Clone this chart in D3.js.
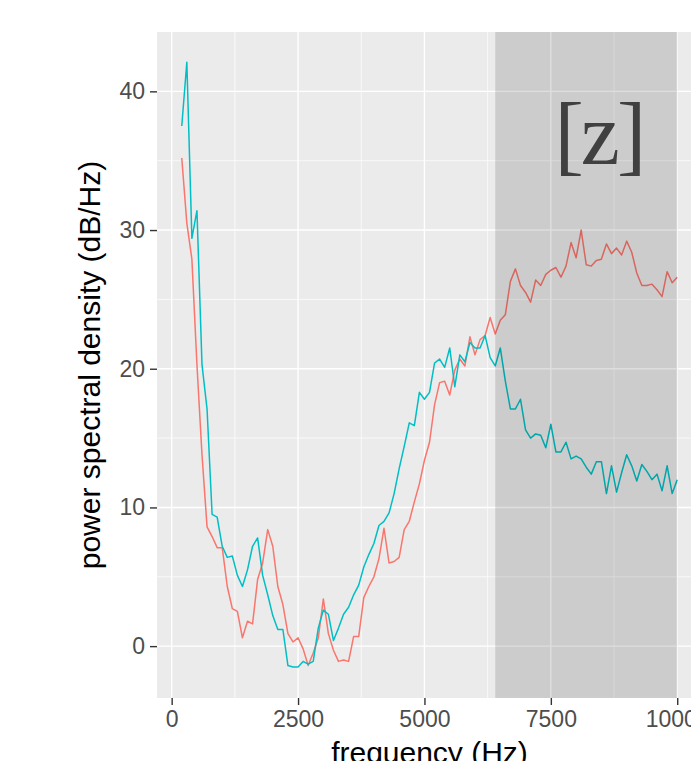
<!DOCTYPE html>
<html>
<head>
<meta charset="utf-8">
<script src="https://cdn.jsdelivr.net/npm/d3@7"></script>
<style>
  html, body { margin: 0; padding: 0; background: #ffffff; overflow: hidden; }
  svg { display: block; }
</style>
</head>
<body>
<svg id="chart" width="691" height="761"></svg>
<script>
// Frequency bins (Hz)
const frequencies = [
  200, 300, 400, 500, 600, 700, 800, 900, 1000, 1100,
  1200, 1300, 1400, 1500, 1600, 1700, 1800, 1900, 2000, 2100,
  2200, 2300, 2400, 2500, 2600, 2700, 2800, 2900, 3000, 3100,
  3200, 3300, 3400, 3500, 3600, 3700, 3800, 3900, 4000, 4100,
  4200, 4300, 4400, 4500, 4600, 4700, 4800, 4900, 5000, 5100,
  5200, 5300, 5400, 5500, 5600, 5700, 5800, 5900, 6000, 6100,
  6200, 6300, 6400, 6500, 6600, 6700, 6800, 6900, 7000, 7100,
  7200, 7300, 7400, 7500, 7600, 7700, 7800, 7900, 8000, 8100,
  8200, 8300, 8400, 8500, 8600, 8700, 8800, 8900, 9000, 9100,
  9200, 9300, 9400, 9500, 9600, 9700, 9800, 9900, 10000
];

// Power spectral density (dB/Hz), first spectrum (red)
const seriesA = [
  35.2, 30.5, 27.9, 20.3, 13.8, 8.6, 7.9, 7.1, 7.1, 4.3,
  2.7, 2.5, 0.6, 1.8, 1.6, 4.8, 6.0, 8.4, 7.2, 4.3,
  3.0, 0.9, 0.3, 0.6, -0.2, -1.4, -0.5, 0.6, 3.4, 0.9,
  -0.3, -1.1, -1.0, -1.1, 0.7, 0.7, 3.5, 4.3, 5.0, 6.3,
  8.5, 6.0, 6.1, 6.4, 8.4, 9.0, 10.4, 11.7, 13.4, 14.7,
  17.4, 19.0, 19.1, 18.1, 19.9, 20.7, 20.2, 22.3, 21.0, 22.1,
  22.4, 23.7, 22.5, 23.5, 23.9, 26.3, 27.2, 26.0, 25.5, 24.8,
  26.4, 26.0, 26.8, 27.1, 27.3, 26.6, 27.4, 29.1, 28.0, 30.0,
  27.5, 27.4, 27.8, 27.9, 29.0, 28.3, 28.7, 28.2, 29.2, 28.4,
  26.9, 26.0, 26.0, 26.1, 25.7, 25.2, 27.0, 26.2, 26.6
];

// Power spectral density (dB/Hz), second spectrum (cyan)
const seriesB = [
  37.5, 42.1, 29.4, 31.4, 20.3, 17.1, 9.5, 9.3, 7.2, 6.4,
  6.5, 5.1, 4.3, 5.5, 7.2, 7.8, 5.1, 3.7, 2.2, 1.2,
  1.2, -1.4, -1.5, -1.5, -1.1, -1.3, -1.1, 1.3, 2.6, 2.3,
  0.4, 1.3, 2.3, 2.8, 3.7, 4.4, 5.7, 6.6, 7.4, 8.7,
  9.0, 9.6, 11.0, 12.8, 14.4, 16.1, 15.9, 18.3, 17.8, 18.3,
  20.4, 20.7, 20.1, 21.5, 18.7, 21.0, 20.5, 21.9, 21.5, 21.5,
  22.4, 20.8, 20.2, 21.5, 19.1, 17.1, 17.1, 17.8, 15.6, 15.0,
  15.3, 15.2, 14.3, 16.0, 14.0, 14.0, 14.7, 13.5, 13.7, 13.5,
  12.9, 12.4, 13.3, 13.3, 11.0, 13.0, 11.1, 12.5, 13.8, 13.0,
  11.9, 13.1, 12.6, 12.0, 12.4, 11.2, 13.0, 11.0, 12.0
];

const xTicks = [0, 2500, 5000, 7500, 10000];
const xMinorTicks = [1250, 3750, 6250, 8750];
const yTicks = [0, 10, 20, 30, 40];
const yMinorTicks = [5, 15, 25, 35];

// Highlighted frequency band and its label
const bandRange = [6400, 10000];
const bandLabel = "[z]";
const bandLabelPos = [8450, 36.9];

const colors = { a: "#F8766D", b: "#00BFC4" };

// Panel geometry
const panel = { left: 157, top: 32, right: 702, bottom: 698 };

const svg = d3.select("#chart");

const x = d3.scaleLinear().domain([-290, 10490]).range([panel.left, panel.right]);
const y = d3.scaleLinear().domain([-3.74, 44.28]).range([panel.bottom, panel.top]);

// Panel background
svg.append("rect")
  .attr("x", panel.left).attr("y", panel.top)
  .attr("width", panel.right - panel.left).attr("height", panel.bottom - panel.top)
  .attr("fill", "#EBEBEB");

// Grid lines
const grid = svg.append("g");
grid.selectAll(".xminor").data(xMinorTicks).join("line")
  .attr("x1", d => x(d)).attr("x2", d => x(d))
  .attr("y1", panel.top).attr("y2", panel.bottom)
  .attr("stroke", "#ffffff").attr("stroke-width", 0.7);
grid.selectAll(".yminor").data(yMinorTicks).join("line")
  .attr("y1", d => y(d)).attr("y2", d => y(d))
  .attr("x1", panel.left).attr("x2", panel.right)
  .attr("stroke", "#ffffff").attr("stroke-width", 0.7);
grid.selectAll(".xmajor").data(xTicks).join("line")
  .attr("x1", d => x(d)).attr("x2", d => x(d))
  .attr("y1", panel.top).attr("y2", panel.bottom)
  .attr("stroke", "#ffffff").attr("stroke-width", 1.4);
grid.selectAll(".ymajor").data(yTicks).join("line")
  .attr("y1", d => y(d)).attr("y2", d => y(d))
  .attr("x1", panel.left).attr("x2", panel.right)
  .attr("stroke", "#ffffff").attr("stroke-width", 1.4);

// Spectra
const line = d3.line()
  .x(d => x(d[0]))
  .y(d => y(d[1]));

const rows = frequencies.map((f, i) => ({ f, a: seriesA[i], b: seriesB[i] }));

svg.append("path")
  .attr("d", line(rows.map(r => [r.f, r.a])))
  .attr("fill", "none").attr("stroke", colors.a)
  .attr("stroke-width", 1.5).attr("stroke-linejoin", "round");

svg.append("path")
  .attr("d", line(rows.map(r => [r.f, r.b])))
  .attr("fill", "none").attr("stroke", colors.b)
  .attr("stroke-width", 1.5).attr("stroke-linejoin", "round");

// Shaded band
svg.append("rect")
  .attr("x", x(bandRange[0])).attr("y", panel.top)
  .attr("width", x(bandRange[1]) - x(bandRange[0]))
  .attr("height", panel.bottom - panel.top)
  .attr("fill", "#000000").attr("fill-opacity", 0.13);

svg.append("text")
  .attr("x", x(bandLabelPos[0])).attr("y", y(bandLabelPos[1]))
  .attr("text-anchor", "middle").attr("dominant-baseline", "central")
  .attr("font-family", "'Liberation Serif', 'Times New Roman', serif")
  .attr("font-size", 88).attr("letter-spacing", -3).attr("fill", "#404040")
  .text(bandLabel);

// Axes
const xAxis = d3.axisBottom(x).tickValues(xTicks).tickSize(7).tickPadding(6).tickFormat(d3.format("d"));
const yAxis = d3.axisLeft(y).tickValues(yTicks).tickSize(7).tickPadding(5).tickFormat(d3.format("d"));

const gx = svg.append("g").attr("transform", `translate(0,${panel.bottom})`).call(xAxis);
const gy = svg.append("g").attr("transform", `translate(${panel.left},0)`).call(yAxis);

[gx, gy].forEach(g => {
  g.select(".domain").remove();
  g.selectAll(".tick line").attr("stroke", "#333333").attr("stroke-width", 1.4);
  g.selectAll(".tick text")
    .attr("fill", "#4D4D4D")
    .attr("font-family", "'Liberation Sans', Arial, Helvetica, sans-serif")
    .attr("font-size", 23);
});

// Axis titles
svg.append("text")
  .attr("x", (panel.left + panel.right) / 2).attr("y", 763)
  .attr("text-anchor", "middle")
  .attr("font-family", "'Liberation Sans', Arial, Helvetica, sans-serif")
  .attr("font-size", 30).attr("fill", "#000000")
  .text("frequency (Hz)");

svg.append("text")
  .attr("transform", `translate(100,${(panel.top + panel.bottom) / 2}) rotate(-90)`)
  .attr("text-anchor", "middle")
  .attr("font-family", "'Liberation Sans', Arial, Helvetica, sans-serif")
  .attr("font-size", 30).attr("fill", "#000000")
  .text("power spectral density (dB/Hz)");
</script>
</body>
</html>
